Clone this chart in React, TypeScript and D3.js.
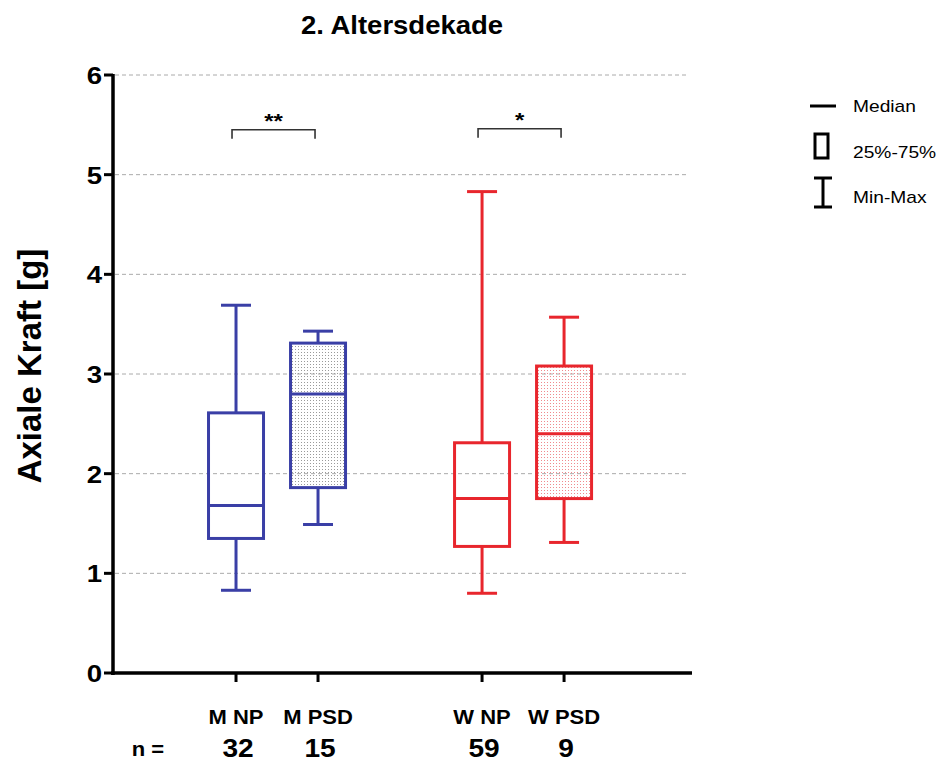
import React from "react";
import * as d3 from "d3";

const groups = ["M NP", "M PSD", "W NP", "W PSD"];
const slots = [0, 1, 3, 4];
const nCounts = ["32", "15", "59", "9"];
const mins = [0.83, 1.49, 0.8, 1.31];
const q1s = [1.35, 1.86, 1.27, 1.75];
const medians = [1.68, 2.8, 1.75, 2.4];
const q3s = [2.61, 3.31, 2.31, 3.08];
const maxs = [3.69, 3.43, 4.83, 3.57];
const colors = ["#3a3fa6", "#3a3fa6", "#e8262d", "#e8262d"];
const patterned = [false, true, false, true];
const yTicks = [0, 1, 2, 3, 4, 5, 6];
const brackets = [
  { from: 0, to: 1, label: "**", level: 5.45 },
  { from: 2, to: 3, label: "*", level: 5.46 },
];
const legendItems = ["Median", "25%-75%", "Min-Max"];

function T({ x, y, sx = 1.25, rot = 0, anchor = "start", size, bold = false, children }: any) {
  return (
    <text
      transform={`translate(${x},${y}) scale(${sx},1)${rot ? ` rotate(${rot})` : ""}`}
      textAnchor={anchor}
      fontWeight={bold ? "bold" : "normal"}
      fontSize={size}
    >
      {children}
    </text>
  );
}

export default function App() {
  const W = 942, H = 762;
  const y = d3.scaleLinear().domain([0, 6]).range([673, 75]);
  const x = d3.scaleLinear().domain([-1.5, 5.56]).range([113, 692]);
  const font = "Arial, 'Liberation Sans', sans-serif";
  const boxW = 55, capW = 30;
  return (
    <svg width={W} height={H} style={{ position: "absolute", left: 0, top: 0 }} fontFamily={font}>
      <defs>
        <pattern id="dotsGray" width="3" height="3" patternUnits="userSpaceOnUse">
          <rect x="1" y="1" width="1" height="1" fill="#9a9a9a" />
        </pattern>
        <pattern id="dotsRed" width="3" height="3" patternUnits="userSpaceOnUse">
          <rect x="1" y="1" width="1" height="1" fill="#f08a8e" />
        </pattern>
      </defs>
      <rect width={W} height={H} fill="#fff" />
      <T x={402} y={34} anchor="middle" size={25} sx={1.1} bold>2. Altersdekade</T>
      {yTicks.filter(t => t > 0).map(t => (
        <line key={"g" + t} x1={115} x2={688} y1={y(t)} y2={y(t)} stroke="#aaa" strokeWidth={1} strokeDasharray="4,3" />
      ))}
      {groups.map((g, i) => {
        const cx = x(slots[i]);
        const c = colors[i];
        return (
          <g key={g}>
            <line x1={cx} x2={cx} y1={y(maxs[i])} y2={y(q3s[i])} stroke={c} strokeWidth={3} />
            <line x1={cx} x2={cx} y1={y(q1s[i])} y2={y(mins[i])} stroke={c} strokeWidth={3} />
            <line x1={cx - capW / 2} x2={cx + capW / 2} y1={y(maxs[i])} y2={y(maxs[i])} stroke={c} strokeWidth={3} />
            <line x1={cx - capW / 2} x2={cx + capW / 2} y1={y(mins[i])} y2={y(mins[i])} stroke={c} strokeWidth={3} />
            <rect x={cx - boxW / 2} y={y(q3s[i])} width={boxW} height={y(q1s[i]) - y(q3s[i])}
              fill={patterned[i] ? (i === 1 ? "url(#dotsGray)" : "url(#dotsRed)") : "none"} stroke={c} strokeWidth={3} />
            <line x1={cx - boxW / 2} x2={cx + boxW / 2} y1={y(medians[i])} y2={y(medians[i])} stroke={c} strokeWidth={3} />
            <T x={cx} y={724} anchor="middle" size={20} sx={1.1} bold>{g}</T>
            <T x={cx + 2} y={757} anchor="middle" size={26} sx={1.08} bold>{nCounts[i]}</T>
            <line x1={cx} x2={cx} y1={673} y2={682} stroke="#000" strokeWidth={3} />
          </g>
        );
      })}
      <T x={148} y={756} anchor="middle" size={20} sx={1.1} bold>n =</T>
      {brackets.map((b, k) => {
        const x1 = x(slots[b.from]) - 4, x2 = x(slots[b.to]) - 3;
        const by = y(b.level);
        return (
          <g key={k}>
            <path d={`M${x1},${by + 9}V${by}H${x2}V${by + 9}`} fill="none" stroke="#333" strokeWidth={1.6} />
            <T x={(x1 + x2) / 2} y={by - 2} anchor="middle" size={20} sx={1.2} bold>{b.label}</T>
          </g>
        );
      })}
      <line x1={113} x2={113} y1={y(6) - 1} y2={675} stroke="#000" strokeWidth={3.5} />
      <line x1={111} x2={692} y1={673} y2={673} stroke="#000" strokeWidth={3.5} />
      {yTicks.map(t => (
        <g key={"t" + t}>
          <line x1={104} x2={113} y1={y(t)} y2={y(t)} stroke="#000" strokeWidth={3} />
          <T x={102} y={y(t) + 9} anchor="end" size={24} sx={1.15} bold>{t}</T>
        </g>
      ))}
      <T x={41} y={366} rot={-90} anchor="middle" size={33} sx={1} bold>Axiale Kraft [g]</T>
      <g>
        <line x1={810} x2={836} y1={106} y2={106} stroke="#000" strokeWidth={3} />
        <rect x={815} y={134} width={13} height={24} fill="none" stroke="#000" strokeWidth={3} />
        <line x1={823} x2={823} y1={178} y2={207} stroke="#000" strokeWidth={3} />
        <line x1={814} x2={832} y1={178} y2={178} stroke="#000" strokeWidth={3} />
        <line x1={814} x2={832} y1={207} y2={207} stroke="#000" strokeWidth={3} />
        {legendItems.map((l, i) => (
          <T key={l} x={853} y={112 + i * 45.5} size={16} sx={1.2}>{l}</T>
        ))}
      </g>
    </svg>
  );
}
